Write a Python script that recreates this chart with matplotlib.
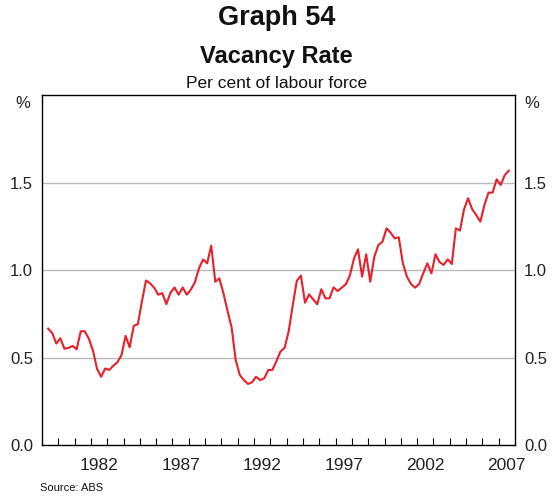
import numpy as np
import pandas as pd
import matplotlib
matplotlib.use("Agg")
import matplotlib.pyplot as plt
from matplotlib.ticker import FixedLocator, NullFormatter

plt.rcParams['font.family'] = ['Liberation Sans', 'DejaVu Sans']

# quarterly vacancy rate, per cent of labour force, from 1979 Q2
first_quarter = "1979Q2"
vacancy_rate = [
    0.665, 0.64, 0.58, 0.61, 0.55, 0.555, 0.566, 0.547, 0.65, 0.65,
    0.607, 0.54, 0.435, 0.39, 0.437, 0.429, 0.453, 0.473, 0.514, 0.624,
    0.558, 0.681, 0.69, 0.82, 0.94, 0.924, 0.899, 0.859, 0.868, 0.805,
    0.87, 0.9, 0.859, 0.9, 0.859, 0.888, 0.93, 1.01, 1.06, 1.038,
    1.139, 0.933, 0.952, 0.867, 0.767, 0.672, 0.486, 0.4, 0.371, 0.349,
    0.358, 0.39, 0.371, 0.381, 0.429, 0.429, 0.48, 0.535, 0.555, 0.65,
    0.8, 0.939, 0.968, 0.813, 0.861, 0.832, 0.804, 0.89, 0.838, 0.838,
    0.901, 0.88, 0.899, 0.918, 0.968, 1.065, 1.118, 0.962, 1.09, 0.933,
    1.076, 1.143, 1.162, 1.238, 1.213, 1.181, 1.187, 1.038, 0.962, 0.92,
    0.899, 0.92, 0.981, 1.038, 0.981, 1.09, 1.045, 1.029, 1.061, 1.034,
    1.238, 1.225, 1.347, 1.41, 1.347, 1.314, 1.276, 1.371, 1.442, 1.442,
    1.518, 1.486, 1.543, 1.568,
]
year_labels = ["1982", "1987", "1992", "1997", "2002", "2007"]
y_ticks = [0.0, 0.5, 1.0, 1.5]

# mid-quarter positions in decimal years
quarters = pd.period_range(first_quarter, periods=len(vacancy_rate), freq="Q")
t = quarters.year + (quarters.quarter - 0.5) / 4.0

fig = plt.figure(figsize=(5.53, 4.98), dpi=100)
ax = fig.add_axes([42 / 553, 1 - 445 / 498, 473 / 553, 350 / 498])

ax.plot(t, vacancy_rate, color="#e8202a", lw=1.5, zorder=3)

ax.set_xlim(1979, 2008)
ax.set_ylim(0, 2)

# yearly marks on the bottom axis, labels centred in the year
ax.xaxis.set_minor_locator(FixedLocator(np.arange(1980, 2008)))
ax.xaxis.set_minor_formatter(NullFormatter())
ax.set_xticks([int(y) + 0.5 for y in year_labels])
ax.set_xticklabels(year_labels)
ax.tick_params(axis="x", which="minor", direction="in", length=5,
               width=0.8, color="black")
ax.tick_params(axis="x", which="major", length=0, pad=9, labelsize=12.5,
               colors="#222222")

ax.set_yticks(y_ticks)
ax.set_yticklabels(["%.1f" % v for v in y_ticks])
ax.tick_params(axis="y", length=0, pad=6.5, labelsize=12, colors="#222222",
               labelleft=True, labelright=True)

for v in y_ticks[1:]:
    ax.axhline(v, color="#b9bcc0", lw=1.0, zorder=1)

for s in ax.spines.values():
    s.set_color("black")
    s.set_linewidth(1.0)

ax.text(-0.04, 0.977, "%", transform=ax.transAxes, ha="center",
        va="center", fontsize=12, color="#222222")
ax.text(1.036, 0.977, "%", transform=ax.transAxes, ha="center",
        va="center", fontsize=12, color="#222222")

fig.text(0.5, 1 - 18 / 498, "Graph 54", ha="center", va="center",
         fontsize=19.5, fontweight="bold", color="#111111")
fig.text(0.5, 1 - 57 / 498, "Vacancy Rate", ha="center", va="center",
         fontsize=17, fontweight="bold", color="#111111")
fig.text(0.5, 1 - 84 / 498, "Per cent of labour force", ha="center",
         va="center", fontsize=12.5, color="#111111")
fig.text(40 / 553, 1 - 488 / 498, "Source: ABS", ha="left", va="center",
         fontsize=8, color="#111111")

fig.savefig("out.png", dpi=100)
